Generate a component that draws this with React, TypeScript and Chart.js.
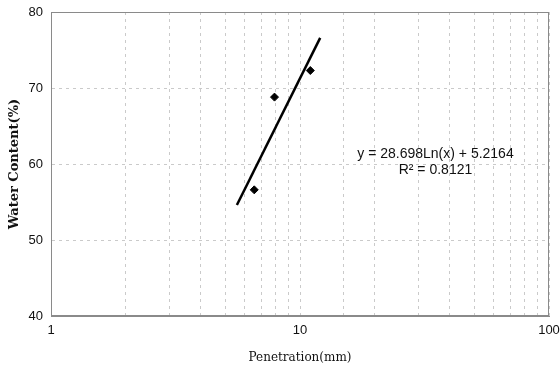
import React, { useEffect, useRef } from "react";
import { Chart, registerables } from "chart.js";

Chart.register(...registerables);

const penetration = [6.55, 7.9, 11.0];
const waterContent = [56.6, 68.8, 72.3];
const trendX = [5.58, 12.05];
const trendY = [54.6, 76.6];
const xLabels = [1, 10, 100];
const yTicks = [40, 50, 60, 70, 80];
const equationLines = ["y = 28.698Ln(x) + 5.2164", "R\u00b2 = 0.8121"];
const equationPos = { x: 35, y: 61.3 };

const equationPlugin = {
  id: "equationText",
  afterDatasetsDraw(chart: any) {
    const { ctx, scales } = chart;
    const px = scales.x.getPixelForValue(equationPos.x);
    const py = scales.y.getPixelForValue(equationPos.y);
    ctx.save();
    ctx.fillStyle = "#111";
    ctx.textAlign = "center";
    ctx.textBaseline = "middle";
    ctx.font = "14px 'Liberation Sans', Arial, sans-serif";
    ctx.fillText(equationLines[0], px, py);
    ctx.fillText(equationLines[1], px, py + 16);
    ctx.restore();
  },
};

export default function App() {
  const ref = useRef<HTMLCanvasElement | null>(null);
  useEffect(() => {
    if (!ref.current) return;
    const chart = new Chart(ref.current, {
      type: "scatter",
      data: {
        datasets: [
          {
            label: "data",
            data: penetration.map((x, i) => ({ x, y: waterContent[i] })),
            pointStyle: "rectRot",
            pointRadius: 4,
            backgroundColor: "#000",
            borderColor: "#000",
            showLine: false,
          },
          {
            label: "trend",
            data: trendX.map((x, i) => ({ x, y: trendY[i] })),
            showLine: true,
            borderColor: "#000",
            borderWidth: 2.5,
            pointRadius: 0,
          },
        ],
      },
      options: {
        animation: false,
        responsive: false,
        layout: { padding: { top: 12, right: 11, left: 0, bottom: 0 } },
        plugins: { legend: { display: false }, tooltip: { enabled: false } },
        scales: {
          x: {
            type: "logarithmic",
            min: 1,
            max: 100,
            afterFit(scale: any) {
              scale.height = 56;
              scale.paddingLeft = 0;
              scale.paddingRight = 0;
            },
            grid: { color: "#cacaca", drawTicks: false },
            border: { color: "#8a8a8a", dash: [3, 4] },
            ticks: {
              autoSkip: false,
              maxRotation: 0,
              padding: 7,
              color: "#111",
              font: { family: "'Liberation Sans', Arial, sans-serif", size: 13 },
              callback(value: any) {
                return xLabels.includes(Number(value)) ? String(value) : "";
              },
            },
            title: {
              display: true,
              text: "Penetration(mm)",
              color: "#111",
              padding: { top: 0, bottom: 7 },
              font: { family: "'DejaVu Serif', serif", size: 12 },
            },
          },
          y: {
            min: 40,
            max: 80,
            afterFit(scale: any) {
              scale.width = 51;
              scale.paddingTop = 0;
              scale.paddingBottom = 0;
            },
            afterBuildTicks(scale: any) {
              scale.ticks = yTicks.map((v) => ({ value: v }));
            },
            grid: { color: "#cacaca", drawTicks: false },
            border: { color: "#8a8a8a", dash: [3, 4] },
            ticks: {
              padding: 8,
              color: "#111",
              font: { family: "'Liberation Sans', Arial, sans-serif", size: 13 },
            },
            title: {
              display: true,
              text: "Water Content(%)",
              color: "#111",
              padding: { top: 7, bottom: 0 },
              font: { family: "'DejaVu Serif', serif", size: 13, weight: "bold" },
            },
          },
        },
      },
      plugins: [
        equationPlugin,
        {
          id: "frame",
          beforeDatasetsDraw(c: any) {
            const { ctx, chartArea } = c;
            ctx.save();
            ctx.strokeStyle = "#8a8a8a";
            ctx.lineWidth = 1;
            ctx.beginPath();
            ctx.moveTo(chartArea.left, chartArea.top + 0.5);
            ctx.lineTo(chartArea.right, chartArea.top + 0.5);
            ctx.moveTo(chartArea.right - 0.5, chartArea.top);
            ctx.lineTo(chartArea.right - 0.5, chartArea.bottom);
            ctx.moveTo(chartArea.left, chartArea.bottom - 0.5);
            ctx.lineTo(chartArea.right, chartArea.bottom - 0.5);
            ctx.moveTo(chartArea.left + 0.5, chartArea.top);
            ctx.lineTo(chartArea.left + 0.5, chartArea.bottom);
            ctx.stroke();
            ctx.restore();
          },
        },
      ],
    });
    return () => chart.destroy();
  }, []);
  return (
    <div style={{ position: "absolute", left: 0, top: 0, width: 560, height: 372, background: "#fff" }}>
      <canvas ref={ref} width={560} height={372} />
    </div>
  );
}
